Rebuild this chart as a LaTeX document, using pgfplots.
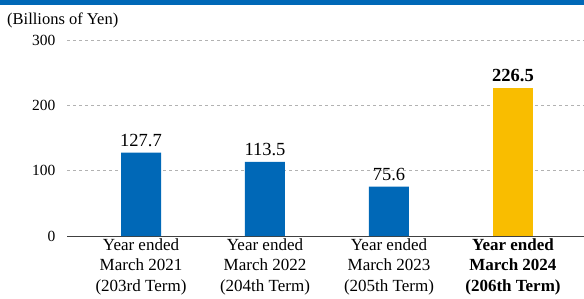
\documentclass[border=0pt]{standalone}
\usepackage{pgfplots}
\pgfplotsset{compat=1.18}
\usepackage{fontspec}
\setmainfont{Liberation Serif}
\definecolor{barblue}{HTML}{0068B7}
\definecolor{baryellow}{HTML}{F9BD00}
\begin{document}
\begin{tikzpicture}[x=1pt,y=1pt]
\useasboundingbox (0,0) rectangle (584,298);
\fill[barblue] (0,293) rectangle (584,298);
\node[anchor=base west,font=\fontsize{16.5}{18}\selectfont,inner sep=0pt] at (7,273) {(Billions of Yen)};
\begin{axis}[
  at={(67pt,62pt)}, anchor=south west,
  scale only axis,
  width=517pt, height=196pt,
  xmin=-0.597, xmax=3.573,
  ymin=0, ymax=300,
  ytick={0,100,200,300},
  xtick={0,1,2,3},
  xticklabels={{Year ended\\March 2021\\(203rd Term)},{Year ended\\March 2022\\(204th Term)},{Year ended\\March 2023\\(205th Term)},{\textbf{Year ended}\\\textbf{March 2024}\\\textbf{(206th Term)}}},
  xticklabel style={align=center,font=\fontsize{17}{20.5}\selectfont,yshift=1pt},
  yticklabel style={font=\fontsize{15.5}{18}\selectfont,xshift=-8pt},
  /pgf/number format/assume math mode=true,
  axis x line=bottom,
  axis y line=left,
  x axis line style={draw=black!75,line width=0.8pt,-},
  y axis line style={draw=none},
  major tick length=0pt,
  ymajorgrids,
  grid style={dashed,gray!60,line width=0.5pt},
  ybar, bar width=40pt, bar shift=0pt,
  nodes near coords,
  every node near coord/.append style={font=\fontsize{18.5}{20}\selectfont,inner sep=1pt,yshift=5pt},
  clip=false,
]
\addplot[fill=barblue,draw=none] coordinates {(0,127.7) (1,113.5) (2,75.6)};
\addplot[fill=baryellow,draw=none,every node near coord/.append style={font=\fontsize{18.5}{20}\selectfont\bfseries}] coordinates {(3,226.5)};
\end{axis}
\end{tikzpicture}
\end{document}
